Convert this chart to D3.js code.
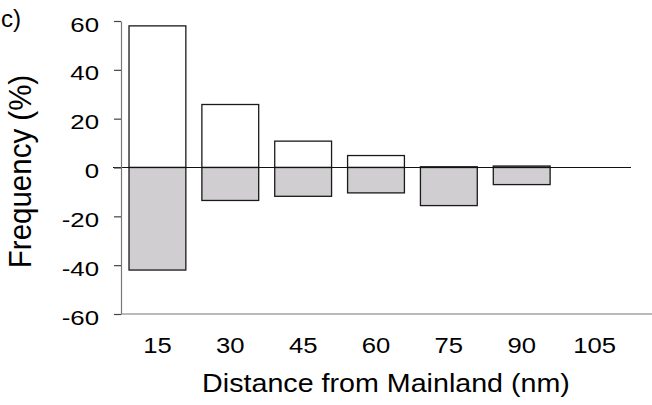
<!DOCTYPE html>
<html>
<head>
<meta charset="utf-8">
<script src="https://cdn.jsdelivr.net/npm/d3@7"></script>
<style>
  body { margin: 0; background: #fff; }
  svg { display: block; font-family: "Liberation Sans", Arial, sans-serif; }
</style>
</head>
<body>
<div id="chart"></div>
<script>
// data (c)
const distances = ['15', '30', '45', '60', '75', '90', '105'];
const positiveFreq = [58, 25.8, 10.8, 4.9, 0.3, 0.6, null];
const negativeFreq = [-42, -13.5, -11.8, -10.4, -15.6, -7, null];
const yTicks = [60, 40, 20, 0, -20, -40, -60];

const width = 652, height = 405;
const margin = { top: 21, right: 21, bottom: 91, left: 121 };

const svg = d3.select('#chart').append('svg')
  .attr('width', width)
  .attr('height', height);

const x = d3.scaleBand()
  .domain(distances)
  .range([margin.left, width - margin.right])
  .paddingInner(0.22)
  .paddingOuter(0.11);

const y = d3.scaleLinear()
  .domain([-60, 60])
  .range([height - margin.bottom, margin.top]);

// text in the original is a little stretched sideways
const yTickScale = 1.26, xTickScale = 1.15, titleScale = 1.12;

// bars: white above zero, grey below
const rows = distances.map((d, i) => ({ d, pos: positiveFreq[i], neg: negativeFreq[i] }));

svg.append('g').selectAll('rect.pos')
  .data(rows.filter(r => r.pos != null))
  .join('rect')
  .attr('class', 'pos')
  .attr('x', r => x(r.d))
  .attr('width', x.bandwidth())
  .attr('y', r => y(r.pos))
  .attr('height', r => y(0) - y(r.pos))
  .attr('fill', '#fff')
  .attr('stroke', '#1a1a1a')
  .attr('stroke-width', 1.3);

svg.append('g').selectAll('rect.neg')
  .data(rows.filter(r => r.neg != null))
  .join('rect')
  .attr('class', 'neg')
  .attr('x', r => x(r.d))
  .attr('width', x.bandwidth())
  .attr('y', y(0))
  .attr('height', r => y(r.neg) - y(0))
  .attr('fill', '#d0ced0')
  .attr('stroke', '#1a1a1a')
  .attr('stroke-width', 1.3);

// zero line
svg.append('line')
  .attr('x1', margin.left - 8)
  .attr('x2', x.range()[1])
  .attr('y1', y(0))
  .attr('y2', y(0))
  .attr('stroke', '#111')
  .attr('stroke-width', 1.2);

// y axis
const yAxis = svg.append('g')
  .attr('transform', `translate(${margin.left},0)`)
  .call(d3.axisLeft(y).tickValues(yTicks).tickSize(7).tickSizeOuter(0)
    .tickFormat(d => String(d)));
yAxis.select('.domain').attr('stroke', '#777').attr('stroke-width', 1.2);
yAxis.selectAll('.tick line').attr('stroke', '#444').attr('stroke-width', 1.2);
yAxis.selectAll('.tick text')
  .attr('x', 0).attr('dy', null).attr('y', 0)
  .attr('transform', `translate(-22,10) scale(${yTickScale},1)`)
  .attr('text-anchor', 'end')
  .attr('fill', '#000')
  .style('font-size', '20.5px');

// x axis
const xAxis = svg.append('g')
  .attr('transform', `translate(0,${y(-60)})`)
  .call(d3.axisBottom(x).tickSize(0));
xAxis.select('.domain').remove();
xAxis.selectAll('.tick text')
  .attr('y', 0).attr('dy', null)
  .attr('transform', `translate(0,38.7) scale(${xTickScale},1)`)
  .attr('fill', '#000')
  .style('font-size', '22.3px');

svg.append('line')
  .attr('x1', margin.left)
  .attr('x2', width)
  .attr('y1', y(-60))
  .attr('y2', y(-60))
  .attr('stroke', '#777')
  .attr('stroke-width', 1.2);

// axis titles
svg.append('text')
  .attr('transform', `translate(386,391.7) scale(${titleScale},1)`)
  .attr('text-anchor', 'middle')
  .style('font-size', '25.6px')
  .text('Distance from Mainland (nm)');

svg.append('text')
  .attr('transform', `translate(31,171.5) scale(1.08,1) rotate(-90)`)
  .attr('text-anchor', 'middle')
  .style('font-size', '29.5px')
  .text('Frequency (%)');

// panel letter
svg.append('text')
  .attr('transform', 'translate(1,27) scale(1.05,1)')
  .attr('text-anchor', 'start')
  .style('font-size', '23px')
  .text('c)');
</script>
</body>
</html>
